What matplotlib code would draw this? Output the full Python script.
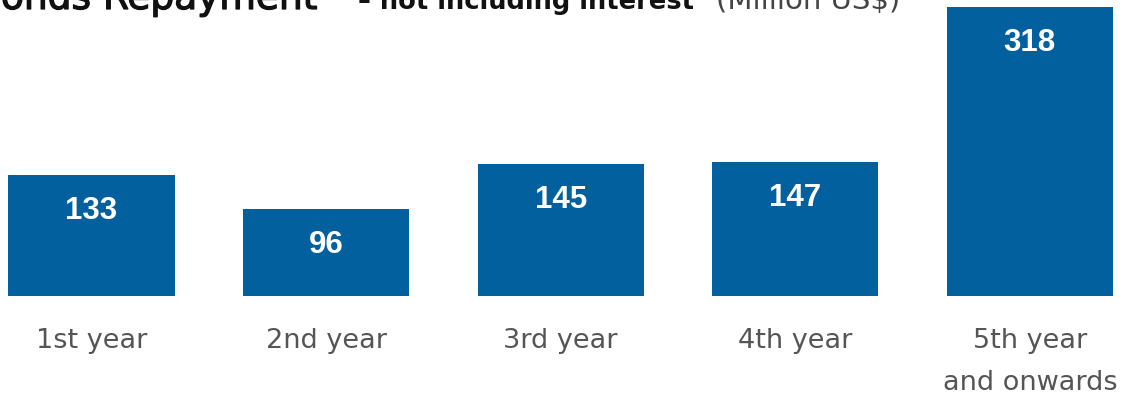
import matplotlib.pyplot as plt
import matplotlib.patheffects as pe

# Bonds repayment schedule, principal only (Million US$)
categories = ['1st year', '2nd year', '3rd year', '4th year', '5th year\nand onwards']
repayment = [133, 96, 145, 147, 318]

bar_color = '#03609F'
label_grey = '#555555'

fig = plt.figure(figsize=(11.29, 3.99), dpi=100)
W, H = 1129, 399

# axes fills the width; baseline of bars sits 103 px above the bottom edge
ax = fig.add_axes([0, 103 / H, 1, 296 / H])
x = list(range(len(categories)))
ax.bar(x, repayment, width=0.708, color=bar_color)
ax.set_xlim(-0.39, 4.4225)
ax.set_ylim(0, 325.7)

# value labels, a fixed distance under each bar top
for xi, v in zip(x, repayment):
    ax.annotate(str(v), (xi, v), xytext=(0, -36), textcoords='offset pixels',
                ha='center', va='center', color='white', fontsize=22.5,
                fontweight='bold', family='Liberation Sans')

ax.set_xticks(x)
ax.set_xticklabels(categories, fontsize=19.5, color=label_grey,
                   linespacing=1.8, family='DejaVu Sans')
ax.tick_params(axis='x', length=0, pad=23)
ax.tick_params(axis='y', left=False, labelleft=False)
for s in ax.spines.values():
    s.set_visible(False)

# title runs off the top edge of the canvas
base = 1 - 9 / H
fig.text(317 / W, base, 'Bonds Repayment', ha='right', va='baseline',
         fontsize=27, color='#111111',
         path_effects=[pe.withStroke(linewidth=0.9, foreground='#111111')])
fig.text(358 / W, base, '\u2013 not including interest', ha='left', va='baseline',
         fontsize=18.5, fontweight='bold', color='#111111')
fig.text(716 / W, base, '(Million US$)', ha='left', va='baseline',
         fontsize=21, color='#444444')

fig.savefig('out.png', dpi=100)
